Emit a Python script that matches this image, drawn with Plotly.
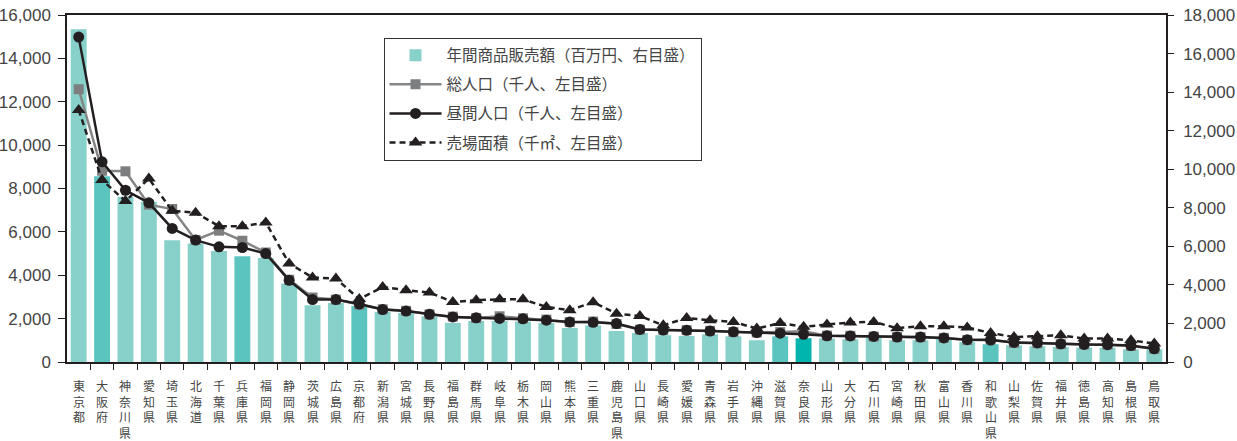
import plotly.graph_objects as go

# Prefectures, ordered by daytime population
prefectures = [
    "東京都", "大阪府", "神奈川県", "愛知県", "埼玉県", "北海道", "千葉県", "兵庫県",
    "福岡県", "静岡県", "茨城県", "広島県", "京都府", "新潟県", "宮城県", "長野県",
    "福島県", "群馬県", "岐阜県", "栃木県", "岡山県", "熊本県", "三重県", "鹿児島県",
    "山口県", "長崎県", "愛媛県", "青森県", "岩手県", "沖縄県", "滋賀県", "奈良県",
    "山形県", "大分県", "石川県", "宮崎県", "秋田県", "富山県", "香川県", "和歌山県",
    "山梨県", "佐賀県", "福井県", "徳島県", "高知県", "島根県", "鳥取県",
]

# 年間商品販売額 (right axis)
annual_sales = [
    17260, 9640, 8570, 8310, 6320, 6150, 5760, 5490,
    5400, 4070, 2940, 3060, 2900, 2600, 2540, 2370,
    2030, 2130, 2130, 2100, 2030, 1770, 1900, 1610,
    1510, 1390, 1350, 1440, 1330, 1130, 1330, 1230,
    1220, 1180, 1300, 1130, 1130, 1220, 1040, 920,
    870, 820, 780, 750, 750, 660, 660,
]

# 総人口 (thousands, left axis)
total_population = [
    12577, 8817, 8792, 7255, 7054, 5628, 6056, 5591,
    5050, 3792, 2975, 2877, 2648, 2431, 2360, 2196,
    2091, 2024, 2107, 2017, 1957, 1842, 1867, 1753,
    1493, 1479, 1468, 1437, 1385, 1362, 1380, 1421,
    1216, 1210, 1174, 1153, 1146, 1112, 1012, 1036,
    885, 866, 822, 810, 796, 742, 607,
]

# 昼間人口 (thousands, left axis)
daytime_population = [
    14980, 9230, 7920, 7340, 6160, 5620, 5310, 5280,
    5000, 3770, 2880, 2880, 2670, 2420, 2350, 2200,
    2080, 2040, 2010, 1990, 1930, 1840, 1830, 1770,
    1500, 1470, 1460, 1430, 1390, 1360, 1330, 1280,
    1210, 1200, 1180, 1150, 1150, 1110, 1030, 1010,
    900, 880, 840, 810, 800, 760, 610,
]

# 売場面積 (thousand m2, left axis)
floor_area = [
    11620, 8390, 7420, 8460, 6970, 6880, 6260, 6260,
    6430, 4540, 3900, 3850, 2900, 3460, 3310, 3200,
    2770, 2850, 2890, 2890, 2540, 2390, 2760, 2230,
    2120, 1690, 2030, 1920, 1850, 1540, 1800, 1620,
    1730, 1820, 1850, 1560, 1650, 1650, 1590, 1340,
    1150, 1190, 1230, 1080, 1080, 1000, 850,
]

kinki = {"大阪府", "兵庫県", "京都府", "滋賀県", "和歌山県"}
focus = "奈良県"

BAR_LIGHT = "#88d1cb"
BAR_KINKI = "#5cc4bf"
BAR_FOCUS = "#00b5ad"
INK = "#231f20"
GREY = "#858585"
TEXT = "#444444"

def bar_color(name):
    if name == focus:
        return BAR_FOCUS
    if name in kinki:
        return BAR_KINKI
    return BAR_LIGHT

idx = list(range(len(prefectures)))
boundaries = [i + 0.5 for i in idx[:-1]]
x_range = [-0.5, len(prefectures) - 0.5]

fig = go.Figure()

fig.add_trace(go.Bar(
    x=idx, y=annual_sales, name="年間商品販売額（百万円、右目盛）",
    marker=dict(color=[bar_color(p) for p in prefectures], line=dict(width=0)),
    xaxis="x", yaxis="y", legendgroup="a",
))
fig.add_trace(go.Scatter(
    x=idx, y=total_population, name="総人口（千人、左目盛）", mode="lines+markers",
    line=dict(color=GREY, width=2.5),
    marker=dict(symbol="square", size=10, color="#7d7e80"),
    xaxis="x", yaxis="y2", legendgroup="b",
))
fig.add_trace(go.Scatter(
    x=idx, y=daytime_population, name="昼間人口（千人、左目盛）", mode="lines+markers",
    line=dict(color=INK, width=2.5),
    marker=dict(symbol="circle", size=11, color=INK),
    xaxis="x", yaxis="y2", legendgroup="c",
))
fig.add_trace(go.Scatter(
    x=idx, y=floor_area, name="売場面積（千㎡、左目盛）", mode="lines+markers",
    line=dict(color=INK, width=2.5, dash="6px,4px"),
    marker=dict(symbol="triangle-up", size=12, color=INK),
    xaxis="x", yaxis="y2", legendgroup="d",
))

tick_font = dict(family="Liberation Sans Narrow, Liberation Sans, Arial", size=17, color=TEXT)
left_ticks = list(range(0, 16001, 2000))
right_ticks = list(range(0, 18001, 2000))

fig.update_layout(
    width=1237, height=441,
    margin=dict(l=67, r=71, t=15, b=79, autoexpand=False),
    paper_bgcolor="white", plot_bgcolor="white",
    bargap=0.32,
    showlegend=True,
    legend=dict(
        x=0.288, y=0.935, xanchor="left", yanchor="top",
        bordercolor="#333333", borderwidth=1, bgcolor="white",
        font=dict(family="Noto Sans CJK JP", size=15.5, color=TEXT),
        traceorder="grouped", tracegroupgap=6, itemwidth=52,
    ),
    xaxis=dict(
        range=x_range, automargin=False,
        tickmode="array", tickvals=boundaries, showticklabels=False,
        ticks="outside", ticklen=6, tickwidth=1.2, tickcolor=INK,
        showline=True, linecolor=INK, linewidth=1.5, mirror=True,
        showgrid=False, zeroline=False,
    ),
    xaxis2=dict(
        overlaying="x", anchor="y", range=x_range, automargin=False,
        tickmode="array", tickvals=boundaries, showticklabels=False,
        ticks="inside", ticklen=6, tickwidth=1.2, tickcolor=INK,
        showline=False, showgrid=False, zeroline=False,
    ),
    yaxis=dict(
        side="right", range=[0, 18000], automargin=False,
        tickmode="array", tickvals=right_ticks, ticktext=[f"{v:,}" for v in right_ticks],
        ticks="outside", ticklen=6, tickwidth=1.2, tickcolor=INK,
        ticklabelstandoff=6, tickfont=tick_font,
        showline=True, linecolor=INK, linewidth=1.5,
        showgrid=False, zeroline=False,
    ),
    yaxis3=dict(
        overlaying="y", side="right", anchor="x", range=[0, 18000], automargin=False,
        tickmode="array", tickvals=right_ticks[1:-1], showticklabels=False,
        ticks="inside", ticklen=6, tickwidth=1.2, tickcolor=INK,
        showline=False, showgrid=False, zeroline=False,
    ),
    yaxis2=dict(
        overlaying="y", side="left", anchor="x", range=[0, 16000], automargin=False,
        tickmode="array", tickvals=left_ticks, ticktext=[f"{v:,}" for v in left_ticks],
        ticks="outside", ticklen=7, tickwidth=1.2, tickcolor=INK,
        ticklabelstandoff=4, tickfont=tick_font,
        showline=True, linecolor=INK, linewidth=1.5,
        showgrid=False, zeroline=False,
    ),
)

# Vertical category labels: characters stacked one per line under each bar
fig.update_layout(annotations=[
    dict(
        x=i, xref="x", y=0, yref="paper",
        text="<br>".join(name), showarrow=False,
        xanchor="center", yanchor="top", yshift=-13,
        font=dict(family="Noto Sans CJK JP", size=12, color=TEXT),
    )
    for i, name in enumerate(prefectures)
])

fig.write_html("out.html")
